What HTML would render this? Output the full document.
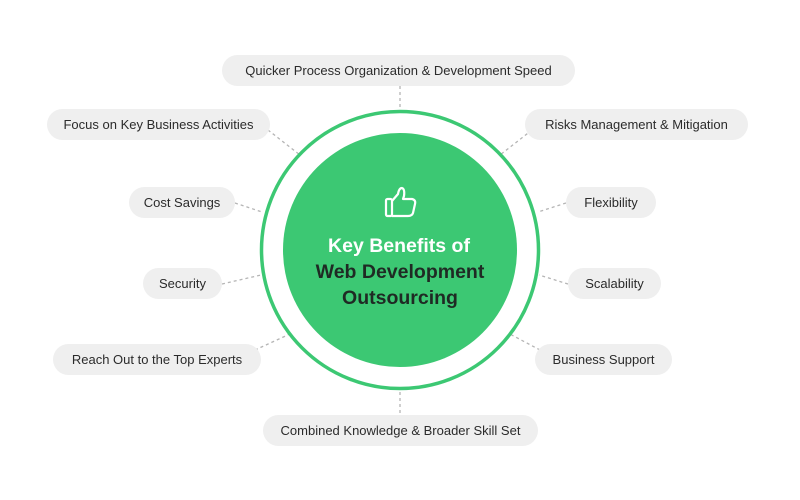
<!DOCTYPE html>
<html><head><style>
body{margin:0;width:800px;height:500px;background:#fff;position:relative;overflow:hidden;font-family:"Liberation Sans",sans-serif}
.p{position:absolute;height:31px;line-height:31px;background:#efefef;border-radius:16px;text-align:center;font-size:13px;color:#2b2b2b;white-space:nowrap}
</style></head><body>
<svg width="800" height="500" style="position:absolute;left:0;top:0">
<g stroke="#b5b5b5" stroke-width="1.3" stroke-dasharray="3,3" fill="none">
<line x1="400" y1="86" x2="400" y2="108"/>
<line x1="400" y1="392" x2="400" y2="415"/>
<line x1="268" y1="130" x2="300" y2="155"/>
<line x1="532" y1="130" x2="500" y2="155"/>
<line x1="235" y1="203" x2="262" y2="212"/>
<line x1="566" y1="203" x2="538" y2="212"/>
<line x1="222" y1="284" x2="261" y2="275"/>
<line x1="568" y1="284" x2="539" y2="275"/>
<line x1="255" y1="350" x2="292" y2="333"/>
<line x1="540" y1="350" x2="508" y2="333"/>
</g>
<circle cx="400" cy="250" r="138.5" fill="#fff" stroke="#3cc873" stroke-width="3.5"/>
<circle cx="400" cy="250" r="117" fill="#3cc873"/>
<g fill="none" stroke="#fff" stroke-width="2.2" stroke-linejoin="round">
<rect x="386" y="199" width="6" height="17" rx="1.5"/>
<path d="M392 201 L398 194 Q399 188 402 188 Q405 189 404 196 L403 199 L412 199 Q416 200 415 204 L413 213 Q412 216 408 216 L392 216"/>
</g>
<text x="399" y="252" text-anchor="middle" font-family="Liberation Sans,sans-serif" font-weight="bold" font-size="19.5" fill="#fff">Key Benefits of</text>
<text x="400" y="278" text-anchor="middle" font-family="Liberation Sans,sans-serif" font-weight="bold" font-size="19.5" fill="#1f2a24">Web Development</text>
<text x="400" y="304" text-anchor="middle" font-family="Liberation Sans,sans-serif" font-weight="bold" font-size="19.5" fill="#1f2a24">Outsourcing</text>
</svg>
<div class="p" style="left:222px;top:55px;width:353px">Quicker Process Organization &amp; Development Speed</div>
<div class="p" style="left:47px;top:109px;width:223px">Focus on Key Business Activities</div>
<div class="p" style="left:525px;top:109px;width:223px">Risks Management &amp; Mitigation</div>
<div class="p" style="left:129px;top:187px;width:106px">Cost Savings</div>
<div class="p" style="left:566px;top:187px;width:90px">Flexibility</div>
<div class="p" style="left:143px;top:268px;width:79px">Security</div>
<div class="p" style="left:568px;top:268px;width:93px">Scalability</div>
<div class="p" style="left:53px;top:344px;width:208px">Reach Out to the Top Experts</div>
<div class="p" style="left:535px;top:344px;width:137px">Business Support</div>
<div class="p" style="left:263px;top:415px;width:275px">Combined Knowledge &amp; Broader Skill Set</div>
</body></html>
